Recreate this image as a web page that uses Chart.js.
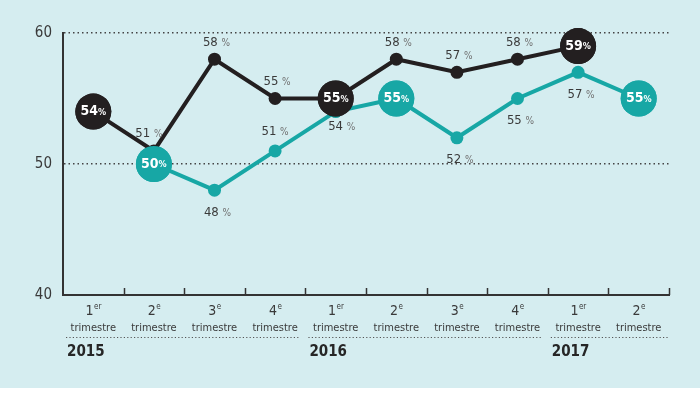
<!DOCTYPE html>
<html><head><meta charset="utf-8">
<script src="https://cdn.jsdelivr.net/npm/chart.js@4"></script>
<style>
html,body{margin:0;padding:0;background:#fff}
#wrap{width:700px;height:388px;background:#d5edf0}
canvas{display:block}
</style></head>
<body><div id="wrap"><canvas id="c" width="700" height="388"></canvas></div>
<script>
const quarterLabels = ['1er','2e','3e','4e','1er','2e','3e','4e','1er','2e'];
const yearLabels = ['2015','2016','2017'];
const yearStart = [0,4,8];
const blackValues = [54,51,58,55,55,58,57,58,59,null];
const tealValues  = [null,50,48,51,54,55,52,55,57,55];
const blackHighlight = [0,4,8];
const tealHighlight = [1,5,9];
const tealLabelAbove = [3];
const yTicks = [40,50,60];

const BLACK = '#231f20', TEAL = '#17a7a5', TXT = '#3a3a3a';
const FONT = '"DejaVu Sans Condensed","Noto Sans",sans-serif';

function radiusFor(hl){ return c => hl.includes(c.dataIndex) ? 18 : 6.5; }

const overlay = {
  id:'overlay',
  afterDatasetsDraw(chart){
    const ctx = chart.ctx, xs = chart.scales.x, area = chart.chartArea;
    const tealMeta = chart.getDatasetMeta(0), blackMeta = chart.getDatasetMeta(1);
    tealHighlight.forEach(i => tealMeta.data[i].draw(ctx));
    blackHighlight.forEach(i => blackMeta.data[i].draw(ctx));

    ctx.save();
    ctx.textBaseline = 'middle';
    function pctLabel(x, y, v){
      ctx.font = '13px ' + FONT;
      const a = String(v) + ' ';
      const wa = ctx.measureText(a).width;
      ctx.font = '10px ' + FONT;
      const wb = ctx.measureText('%').width;
      const x0 = x - (wa + wb) / 2;
      ctx.textAlign = 'left';
      ctx.fillStyle = TXT;
      ctx.font = '13px ' + FONT;
      ctx.fillText(a, x0, y);
      ctx.fillStyle = '#707070';
      ctx.font = '10px ' + FONT;
      ctx.fillText('%', x0 + wa, y + 1);
    }
    function bigLabel(x, y, v){
      ctx.font = 'bold 14px ' + FONT;
      const a = String(v);
      const wa = ctx.measureText(a).width;
      ctx.font = 'bold 9px ' + FONT;
      const wb = ctx.measureText('%').width;
      const x0 = x - (wa + wb) / 2;
      ctx.textAlign = 'left';
      ctx.fillStyle = '#fff';
      ctx.font = 'bold 14px ' + FONT;
      ctx.fillText(a, x0, y);
      ctx.font = 'bold 9px ' + FONT;
      ctx.fillText('%', x0 + wa, y + 1);
    }
    blackValues.forEach((v, i) => {
      if (v == null) return;
      const p = blackMeta.data[i];
      if (blackHighlight.includes(i)) bigLabel(p.x, p.y, v);
      else pctLabel(p.x + (i === 1 ? -5 : 2), p.y - 17, v);
    });
    tealValues.forEach((v, i) => {
      if (v == null) return;
      const p = tealMeta.data[i];
      if (tealHighlight.includes(i)) bigLabel(p.x, p.y, v);
      else if (tealLabelAbove.includes(i)) pctLabel(p.x, p.y - 19, v);
      else if (i === 4) pctLabel(p.x + 6, p.y + 15, v);
      else pctLabel(p.x + 3, p.y + 22, v);
    });

    const half = (xs.getPixelForValue(1) - xs.getPixelForValue(0)) / 2;
    const bound = i => i >= quarterLabels.length ? xs.right : xs.getPixelForValue(i) - half;
    ctx.strokeStyle = '#333'; ctx.lineWidth = 1.5;
    for (let i = 1; i <= quarterLabels.length; i++){
      const bx = Math.round(bound(i)) + 0.5;
      ctx.beginPath(); ctx.moveTo(bx, area.bottom); ctx.lineTo(bx, area.bottom - 7); ctx.stroke();
    }
    quarterLabels.forEach((q, i) => {
      const x = xs.getPixelForValue(i);
      const num = q[0], suf = q.slice(1);
      ctx.font = '14px ' + FONT;
      const wn = ctx.measureText(num).width;
      ctx.font = '8px ' + FONT;
      const ws = ctx.measureText(suf).width;
      const x0 = x - (wn + ws) / 2;
      ctx.textAlign = 'left'; ctx.fillStyle = TXT;
      ctx.font = '14px ' + FONT; ctx.fillText(num, x0, area.bottom + 16);
      ctx.font = '8px ' + FONT; ctx.fillText(suf, x0 + wn + 0.5, area.bottom + 12);
      ctx.textAlign = 'center';
      ctx.font = '11px ' + FONT; ctx.fillText('trimestre', x, area.bottom + 33);
    });
    ctx.setLineDash([1.2, 2.2]); ctx.strokeStyle = '#555'; ctx.lineWidth = 1.2;
    yearLabels.forEach((yl, k) => {
      const s = yearStart[k], e = k + 1 < yearStart.length ? yearStart[k + 1] : quarterLabels.length;
      ctx.beginPath(); ctx.moveTo(bound(s) + 3, area.bottom + 42.5); ctx.lineTo(bound(e) - (e === quarterLabels.length ? 0 : 5), area.bottom + 42.5); ctx.stroke();
      ctx.textAlign = 'left'; ctx.fillStyle = '#262626';
      ctx.font = 'bold 15px ' + FONT;
      ctx.fillText(yl, bound(s) + 4, area.bottom + 57);
    });
    ctx.restore();
  }
};

new Chart(document.getElementById('c'), {
  type: 'line',
  data: {
    labels: quarterLabels,
    datasets: [
      { label:'teal', data: tealValues, borderColor: TEAL, backgroundColor: TEAL, borderWidth: 4,
        pointRadius: radiusFor(tealHighlight), pointBorderWidth: 0, pointBackgroundColor: TEAL, clip: false, order: 2 },
      { label:'black', data: blackValues, borderColor: BLACK, backgroundColor: BLACK, borderWidth: 4,
        pointRadius: radiusFor(blackHighlight), pointBorderWidth: 0, pointBackgroundColor: BLACK, clip: false, order: 1 }
    ]
  },
  options: {
    responsive: false, animation: false, devicePixelRatio: 1,
    layout: { padding: { left: 0, right: 31, top: 33, bottom: 0 } },
    plugins: { legend: { display: false }, tooltip: { enabled: false } },
    elements: { line: { tension: 0 } },
    scales: {
      x: { offset: true, grid: { display: false, drawTicks: false },
           border: { display: true, color: '#333', width: 2 },
           ticks: { display: false },
           afterFit: s => { s.height = 93; } },
      y: { min: 40, max: 60, afterBuildTicks: s => { s.ticks = yTicks.map(v => ({ value: v })); },
           grid: { drawTicks: false, color: c => c.tick && c.tick.value === 40 ? 'rgba(0,0,0,0)' : '#444', lineWidth: 1.5 },
           border: { display: true, color: '#333', width: 2, dash: [1.5, 3] },
           ticks: { padding: 11, color: TXT, font: { size: 15, family: FONT } },
           afterFit: s => { s.width = 63; } }
    }
  },
  plugins: [overlay]
});
</script>
</body></html>
